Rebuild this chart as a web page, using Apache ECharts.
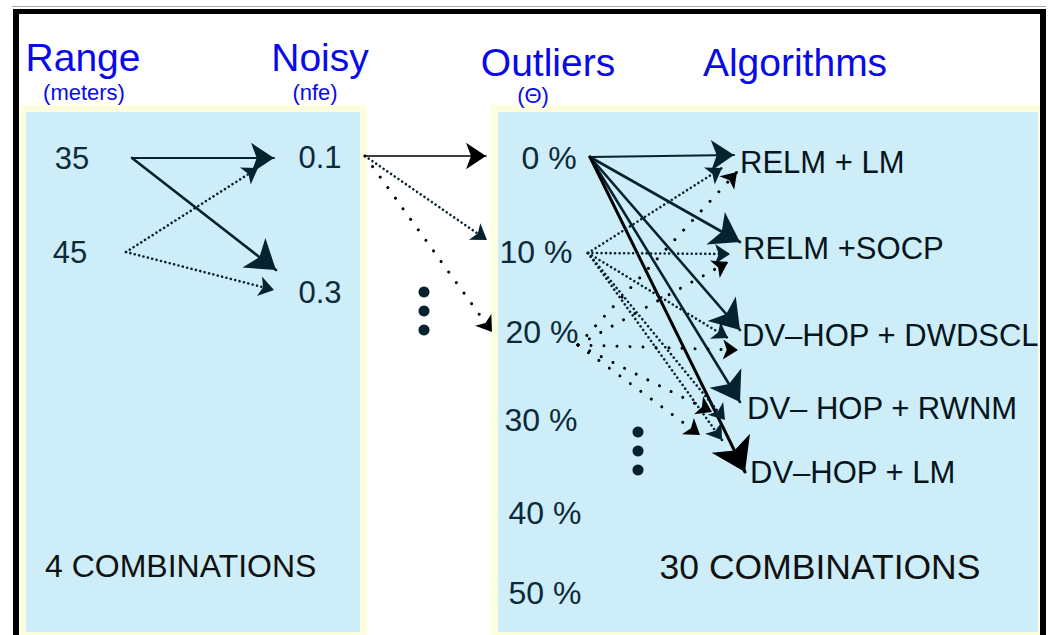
<!DOCTYPE html>
<html>
<head>
<meta charset="utf-8">
<script src="https://cdn.jsdelivr.net/npm/echarts@6/dist/echarts.min.js"></script>
<style>html,body{margin:0;padding:0;background:#fff}#c{width:1051px;height:635px}</style>
</head>
<body>
<div id="c"></div>
<script>
// ---------------- data ----------------
var headers = ["Range", "Noisy", "Outliers", "Algorithms"];
var subHeaders = ["(meters)", "(nfe)", "(\u0398)", ""];
var rangeValues = ["35", "45"];
var noisyValues = ["0.1", "0.3"];
var outlierValues = ["0 %", "10 %", "20 %", "30 %", "40 %", "50 %"];
var algorithms = ["RELM + LM", "RELM +SOCP", "DV\u2013HOP + DWDSCL", "DV\u2013 HOP + RWNM", "DV\u2013HOP + LM"];
var combinationNotes = ["4 COMBINATIONS", "30 COMBINATIONS"];
// edges: [source, target, kind]
var edges = [
  ["35", "0.1", "solid"], ["35", "0.3", "bold"],
  ["45", "0.1", "dense"], ["45", "0.3", "dense"],
  ["0.1", "0 %", "thin"], ["0.1", "10 %", "dense"], ["0.1", "20 %", "sparse"],
  ["0 %", "RELM + LM", "solid"], ["0 %", "RELM +SOCP", "bold"], ["0 %", "DV\u2013HOP + DWDSCL", "bold"],
  ["0 %", "DV\u2013 HOP + RWNM", "bold"], ["0 %", "DV\u2013HOP + LM", "heavy"],
  ["10 %", "RELM + LM", "dense"], ["10 %", "RELM +SOCP", "dense"], ["10 %", "DV\u2013HOP + DWDSCL", "dense"],
  ["10 %", "DV\u2013 HOP + RWNM", "dense"], ["10 %", "DV\u2013HOP + LM", "dense"],
  ["20 %", "RELM + LM", "sparse"], ["20 %", "RELM +SOCP", "sparse"], ["20 %", "DV\u2013HOP + DWDSCL", "sparse"],
  ["20 %", "DV\u2013 HOP + RWNM", "sparse"], ["20 %", "DV\u2013HOP + LM", "sparse"]
];
var ellipses = ["noisy", "outliers"];

// ---------------- layout (positions, separate from data) ----------------
var L = {
  headerPos: [[83, 57], [320, 57], [548, 62], [795, 62]],
  subPos: [[84, 92], [315, 92], [533, 95], [0, 0]],
  rangePos: [[72, 158], [70, 252]],
  noisyPos: [[320, 157], [320, 292]],
  outlierPos: [[549, 158], [536, 252], [542, 332], [541, 420], [545, 513], [545, 593]],
  algoPos: [[740, 162], [743, 248], [742, 335], [747, 408], [750, 472]],
  notePos: [[45, 566], [820, 567]],
  out: {"35": [132, 158], "45": [126, 252], "0.1": [365, 156], "0 %": [590, 157], "10 %": [588, 253], "20 %": [578, 345]},
  tip: {
    "35>0.1": [274, 158], "35>0.3": [276, 270], "45>0.1": [258, 168], "45>0.3": [274, 290],
    "0.1>0 %": [486, 156], "0.1>10 %": [487, 240], "0.1>20 %": [492, 332],
    "0 %>RELM + LM": [734, 155], "0 %>RELM +SOCP": [740, 242], "0 %>DV\u2013HOP + DWDSCL": [740, 330],
    "0 %>DV\u2013 HOP + RWNM": [740, 402], "0 %>DV\u2013HOP + LM": [745, 472],
    "10 %>RELM + LM": [722, 168], "10 %>RELM +SOCP": [730, 254], "10 %>DV\u2013HOP + DWDSCL": [728, 338],
    "10 %>DV\u2013 HOP + RWNM": [725, 420], "10 %>DV\u2013HOP + LM": [722, 440],
    "20 %>RELM + LM": [737, 172], "20 %>RELM +SOCP": [728, 262], "20 %>DV\u2013HOP + DWDSCL": [738, 350],
    "20 %>DV\u2013 HOP + RWNM": [712, 412], "20 %>DV\u2013HOP + LM": [700, 435]
  },
  ellipsisPos: {noisy: [424, 292], outliers: [638, 432]}
};
var STY = {
  thin:   {width: 1.6, type: "solid", size: 20, color: "#000"},
  solid:  {width: 2, type: "solid", size: 23, color: "#06222e"},
  bold:   {width: 2.6, type: "solid", size: 28, color: "#06222e"},
  heavy:  {width: 3, type: "solid", size: 32, color: "#000"},
  dense:  {width: 2.6, type: [0.01, 4.5], size: 15, color: "#06222e"},
  sparse: {width: 3, type: [0.01, 13], size: 15, color: "#000"}
};
var TXT = "#0c2a38", BLUE = "#0a0ae8", FONT = "'Liberation Sans', Arial, sans-serif";

function textPts(labels, pos, size, color, align) {
  return labels.map(function (t, i) {
    return {value: pos[i], name: t, label: {show: true, position: "inside", formatter: t, fontSize: size, color: color, fontFamily: FONT, align: align || "center", verticalAlign: "middle"}};
  }).filter(function (d) { return d.name !== ""; });
}
var textData = []
  .concat(textPts(headers, L.headerPos, 39, BLUE))
  .concat(textPts(subHeaders, L.subPos, 22, BLUE))
  .concat(textPts(rangeValues, L.rangePos, 31, TXT))
  .concat(textPts(noisyValues, L.noisyPos, 31, TXT))
  .concat(textPts(outlierValues, L.outlierPos, 32, TXT))
  .concat(textPts(algorithms, L.algoPos, 31, "#06151c", "left"))
  .concat(textPts(combinationNotes.slice(0, 1), L.notePos.slice(0, 1), 32, "#111", "left"))
  .concat(textPts(combinationNotes.slice(1), L.notePos.slice(1), 35.5, "#111"));

var kinds = Object.keys(STY);
var lineSeries = kinds.map(function (k) {
  var s = STY[k];
  return {
    type: "lines", coordinateSystem: "cartesian2d", z: 3, silent: true,
    symbol: ["none", "arrow"], symbolSize: s.size,
    lineStyle: {width: s.width, type: s.type, color: s.color, opacity: 1, cap: "round"},
    data: edges.filter(function (e) { return e[2] === k; }).map(function (e) {
      return {coords: [L.out[e[0]], L.tip[e[0] + ">" + e[1]]]};
    })
  };
});
var dotData = [];
ellipses.forEach(function (k) {
  var p = L.ellipsisPos[k];
  for (var i = 0; i < 3; i++) dotData.push([p[0], p[1] + i * 19]);
});

var chart = echarts.init(document.getElementById("c"), null, {renderer: "svg"});
chart.setOption({
  backgroundColor: "#fff",
  animation: false,
  grid: {left: 0, right: 0, top: 0, bottom: 0},
  xAxis: {type: "value", min: 0, max: 1051, show: false},
  yAxis: {type: "value", min: 0, max: 635, inverse: true, show: false},
  graphic: [
    {type: "rect", z: -10, shape: {x: 12, y: 6, width: 1034, height: 1}, style: {fill: "#aaa"}},
    {type: "rect", z: -9, shape: {x: 20, y: 105, width: 347, height: 540}, style: {fill: "#fdfde0"}},
    {type: "rect", z: -8, shape: {x: 26, y: 112, width: 334, height: 520}, style: {fill: "#cdedf9"}},
    {type: "rect", z: -9, shape: {x: 490, y: 105, width: 551, height: 530}, style: {fill: "#fdfde0"}},
    {type: "rect", z: -8, shape: {x: 498, y: 112, width: 540, height: 520}, style: {fill: "#cdedf9"}},
    {type: "rect", z: -7, shape: {x: 13, y: 9, width: 1033, height: 5}, style: {fill: "#000"}},
    {type: "rect", z: -7, shape: {x: 13, y: 9, width: 6, height: 626}, style: {fill: "#000"}},
    {type: "rect", z: -7, shape: {x: 1040, y: 9, width: 6, height: 626}, style: {fill: "#000"}}
  ],
  series: [
    {type: "scatter", symbol: "circle", symbolSize: 1, itemStyle: {color: "transparent", opacity: 1}, z: 5, silent: true, data: textData},
    {type: "scatter", symbolSize: 11, itemStyle: {color: "#06222e", opacity: 1}, z: 5, silent: true, data: dotData}
  ].concat(lineSeries)
});
</script>
</body>
</html>
